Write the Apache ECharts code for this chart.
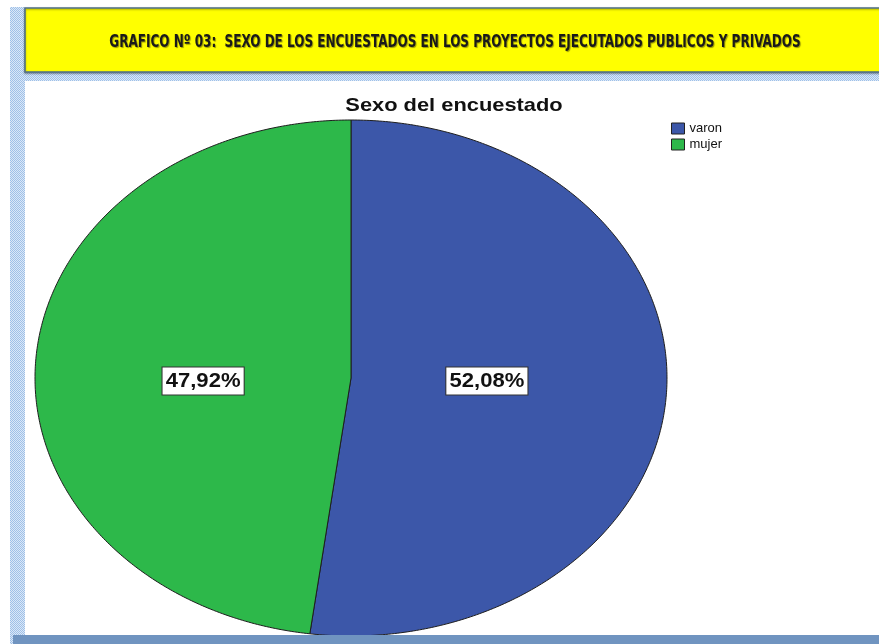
<!DOCTYPE html>
<html>
<head>
<meta charset="utf-8">
<script src="https://cdn.jsdelivr.net/npm/echarts@6/dist/echarts.min.js"></script>
<style>
  html, body { margin: 0; padding: 0; background: #fff; }
  #sexo_chart { width: 879px; height: 644px; }
</style>
</head>
<body>
<!-- grafico 03: sexo de los encuestados, pie eliptico -->
<div id="sexo_chart"></div>
<script>
var categorias = ['varon', 'mujer']
var valores = [52.08, 47.92]
var etiquetas = ['52,08%', '47,92%']
var colores = ['#3c57a9', '#2db84a']

// elipse del pie (SPSS lo dibuja estirado)
var cx = 351
var cy = 378
var rx = 316
var ry = 258
// la imagen original esta estirada a lo ancho
var estiramiento = 1.15

// patron a cuadritos para los bordes celestes
function hatch () {
  var c = document.createElement('canvas')
  c.width = 2
  c.height = 2
  var ctx = c.getContext('2d')
  ctx.fillStyle = '#dbe8f7'
  ctx.fillRect(0, 0, 2, 2)
  ctx.fillStyle = '#9fc0e8'
  ctx.fillRect(0, 0, 1, 1)
  ctx.fillRect(1, 1, 1, 1)
  return { image: c, repeat: 'repeat' }
}

var total = valores.reduce(function (a, b) { return a + b }, 0)

function renderSlice (idx) {
  return function (params, api) {
    var antes = 0
    for (var k = 0; k < idx; k++) antes += valores[k]
    var a0 = antes / total * Math.PI * 2
    var a1 = (antes + api.value(0)) / total * Math.PI * 2
    var pts = [[cx, cy]]
    var n = Math.max(2, Math.ceil((a1 - a0) / 0.01))
    for (var i = 0; i <= n; i++) {
      var a = a0 + (a1 - a0) * i / n
      pts.push([cx + rx * Math.sin(a), cy - ry * Math.cos(a)])
    }
    var am = (a0 + a1) / 2
    return {
      type: 'group',
      children: [{
        type: 'polygon',
        shape: { points: pts },
        style: { fill: colores[idx], stroke: '#1e1e1e', lineWidth: 1 }
      }, {
        type: 'text',
        z2: 10,
        x: cx - 6 + rx * 0.45 * Math.sin(am),
        y: cy + 3,
        scaleX: 1.05,
        style: {
          text: etiquetas[idx],
          align: 'center',
          verticalAlign: 'middle',
          fontFamily: 'Liberation Sans, Arial, sans-serif',
          fontSize: 21,
          fontWeight: 'bold',
          fill: '#111',
          backgroundColor: '#fff',
          borderColor: '#333',
          borderWidth: 1,
          padding: [4, 3, 2, 3]
        }
      }]
    }
  }
}

var series = []
categorias.map(function (name, idx) {
  series.push({
    name: name,
    type: 'custom',
    coordinateSystem: 'none',
    silent: true,
    itemStyle: { color: colores[idx], borderColor: '#222', borderWidth: 1 },
    data: [valores[idx]],
    renderItem: renderSlice(idx)
  })
})

var myChart = echarts.init(document.getElementById('sexo_chart'))
var option = {
  animation: false,
  backgroundColor: '#fff',
  color: colores,
  graphic: [
    // franja izquierda
    { type: 'rect', shape: { x: 10, y: 7, width: 15, height: 637 }, style: { fill: hatch() }, z: 0 },
    // franja bajo el cuadro amarillo
    { type: 'rect', shape: { x: 25, y: 72, width: 860, height: 9 }, style: { fill: hatch() }, z: 0 },
    // cuadro amarillo
    {
      type: 'rect',
      shape: { x: 25, y: 8, width: 870, height: 64 },
      style: { fill: '#ffff00', stroke: '#4f6f86', lineWidth: 1.5, shadowColor: 'rgba(0,0,0,0.35)', shadowBlur: 2, shadowOffsetY: 1 },
      z: 1
    },
    // titulo del cuadro amarillo (letra angosta)
    {
      type: 'text',
      x: 455,
      y: 43,
      scaleX: 0.786,
      z: 10,
      style: {
        text: 'GRAFICO Nº 03:  SEXO DE LOS ENCUESTADOS EN LOS PROYECTOS EJECUTADOS PUBLICOS Y PRIVADOS',
        align: 'center',
        verticalAlign: 'middle',
        fontFamily: 'Liberation Sans Narrow, DejaVu Sans Condensed, sans-serif',
        fontSize: 17,
        fontWeight: 'bold',
        fill: '#1a1a1a',
        textShadowColor: 'rgba(0,0,0,0.4)',
        textShadowBlur: 1,
        textShadowOffsetX: 1,
        textShadowOffsetY: 1
      }
    },
    // barra azul inferior
    { type: 'rect', shape: { x: 13, y: 635, width: 870, height: 10 }, style: { fill: '#7094c0' }, z: 5 },
    // titulo del grafico SPSS
    {
      type: 'text',
      x: 454,
      y: 106,
      scaleX: estiramiento,
      z: 10,
      style: {
        text: 'Sexo del encuestado',
        align: 'center',
        verticalAlign: 'middle',
        fontFamily: 'Liberation Sans, Arial, sans-serif',
        fontSize: 19,
        fontWeight: 'bold',
        fill: '#111'
      }
    }
  ],
  legend: {
    orient: 'vertical',
    left: 671,
    top: 122,
    padding: 0,
    itemWidth: 13,
    itemHeight: 11,
    itemGap: 3,
    icon: 'rect',
    selectedMode: false,
    data: categorias,
    itemStyle: { borderColor: '#222', borderWidth: 1 },
    textStyle: {
      fontFamily: 'Liberation Sans, Arial, sans-serif',
      fontSize: 13,
      lineHeight: 11,
      color: '#111'
    }
  },
  series: series
}
myChart.setOption(option)
</script>
</body>
</html>
